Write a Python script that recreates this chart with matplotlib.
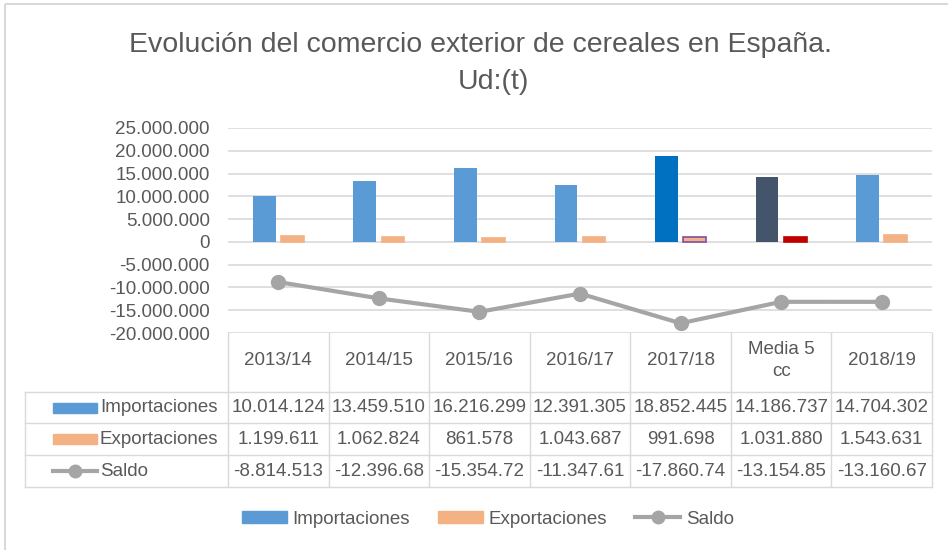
import matplotlib.pyplot as plt
from matplotlib.patches import Rectangle
from matplotlib.lines import Line2D
import numpy as np

plt.rcParams['font.family'] = ['Liberation Sans', 'DejaVu Sans']

# datos (t)
campanas = ['2013/14', '2014/15', '2015/16', '2016/17', '2017/18', 'Media 5\ncc', '2018/19']
importaciones = [10014124, 13459510, 16216299, 12391305, 18852445, 14186737, 14704302]
exportaciones = [1199611, 1062824, 861578, 1043687, 991698, 1031880, 1543631]
saldo = [-8814513, -12396686, -15354721, -11347618, -17860747, -13154857, -13160671]
yticks = list(range(-20000000, 25000001, 5000000))

col_imp = ['#5B9BD5'] * 4 + ['#0070C0', '#44546A', '#5B9BD5']
col_exp = ['#F4B183'] * 5 + ['#C00000', '#F4B183']
edge_exp = ['#F4B183'] * 4 + ['#7F4FA8', '#C00000', '#F4B183']
txt = '#595959'
grid = '#D9D9D9'


def miles(v):
    s = f'{abs(v):,}'.replace(',', '.')
    return ('-' if v < 0 else '') + s


W, H = 948, 550
fig = plt.figure(figsize=(W / 100, H / 100), dpi=100)

# area del grafico (pixeles -> fraccion)
x0, x1, ytop, ybot = 228, 932, 128, 333
ax = fig.add_axes([x0 / W, 1 - ybot / H, (x1 - x0) / W, (ybot - ytop) / H])
n = len(campanas)
x = np.arange(n)
w = 0.225
ax.bar(x - 0.14, importaciones, w, color=col_imp, zorder=2)
ax.bar(x + 0.14, exportaciones, w, color=col_exp, edgecolor=edge_exp, linewidth=1.2, zorder=2)
ax.plot(x, saldo, color='#A5A5A5', lw=3, marker='o', ms=10, zorder=3)
ax.set_xlim(-0.5, n - 0.5)
ax.set_ylim(-20000000, 25000000)
ax.set_yticks(yticks)
ax.set_yticklabels([miles(v) for v in yticks], color=txt, fontsize=13.5)
ax.tick_params(axis='y', length=0, pad=13)
ax.set_xticks([])
for s in ax.spines.values():
    s.set_visible(False)
ax.grid(axis='y', color=grid, lw=1.2, zorder=0)
ax.set_axisbelow(True)

# capa superpuesta en pixeles para la tabla de datos
ov = fig.add_axes([0, 0, 1, 1], facecolor='none')
ov.set_xlim(0, W)
ov.set_ylim(H, 0)
ov.axis('off')

# borde del grafico
ov.add_patch(Rectangle((5, 4), 1000, 600, fill=False, ec=grid, lw=1.5, clip_on=True))

cw = (x1 - x0) / n
rows_y = [392, 423, 455, 487]
tl = 25
for k in range(n + 1):
    xx = x0 + k * cw
    ov.plot([xx, xx], [ybot, rows_y[-1]], color=grid, lw=1)
ov.plot([tl, tl], [rows_y[0], rows_y[-1]], color=grid, lw=1)
for yy in rows_y:
    ov.plot([tl, x1], [yy, yy], color=grid, lw=1)

for k, c in enumerate(campanas):
    ov.text(x0 + (k + 0.5) * cw, (ybot + rows_y[0]) / 2 - 2, c, ha='center', va='center',
            color=txt, fontsize=13.5, linespacing=1.45)

series = [('Importaciones', importaciones), ('Exportaciones', exportaciones), ('Saldo', saldo)]
for r, (nombre, vals) in enumerate(series):
    yc = (rows_y[r] + rows_y[r + 1]) / 2
    if r < 2:
        ov.add_patch(Rectangle((53, yc - 5), 44, 10, color=['#5B9BD5', '#F4B183'][r]))
    else:
        ov.plot([53, 97], [yc, yc], color='#A5A5A5', lw=3)
        ov.plot([75], [yc], 'o', color='#A5A5A5', ms=9)
    ov.text(100, yc, nombre, ha='left', va='center', color=txt, fontsize=13.5)
    for k, v in enumerate(vals):
        ov.text(x0 + (k + 0.5) * cw, yc, miles(v)[:10], ha='center', va='center',
                color=txt, fontsize=13.5)

# titulo
ov.text(481, 45, 'Evolución del comercio exterior de cereales en España.', ha='center', va='center',
        color=txt, fontsize=20.5)
ov.text(493, 82, 'Ud:(t)', ha='center', va='center', color=txt, fontsize=20.5)

# leyenda
handles = [Rectangle((0, 0), 1, 1, color='#5B9BD5'),
           Rectangle((0, 0), 1, 1, color='#F4B183'),
           Line2D([], [], color='#A5A5A5', lw=3, marker='o', ms=9)]
fig.legend(handles, [s[0] for s in series], loc='center', bbox_to_anchor=(488 / W, 1 - 519 / H),
           ncol=3, frameon=False, fontsize=13.5, labelcolor=txt, handlelength=2.4,
           handleheight=0.55, handletextpad=0.3, columnspacing=1.5)

fig.savefig('out.png', dpi=100)
